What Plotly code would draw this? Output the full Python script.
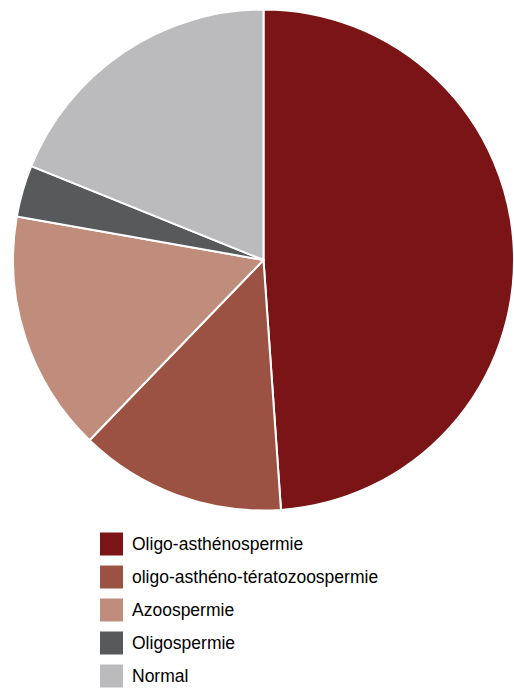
import plotly.graph_objects as go

categories = ["Oligo-asthénospermie", "oligo-asthéno-tératozoospermie",
              "Azoospermie", "Oligospermie", "Normal"]
values = [44, 12, 14, 3, 17]
colors = ["#7B1416", "#9B5242", "#C08C7C", "#58595B", "#BBBBBD"]

W, H = 514, 688

fig = go.Figure(go.Pie(
    labels=categories, values=values, sort=False,
    direction="clockwise", rotation=0,
    marker=dict(colors=colors, line=dict(color="white", width=2)),
    textinfo="none", showlegend=False,
    domain=dict(x=[13 / W, 1], y=[1 - 511 / H, 1 - 9 / H]),
))

shapes = []
annotations = []
for i, (lab, col) in enumerate(zip(categories, colors)):
    yc = 544 + 33 * i
    shapes.append(dict(type="rect", xref="paper", yref="paper",
                       x0=100 / W, x1=123 / W,
                       y0=1 - (yc - 11.5) / H, y1=1 - (yc + 11.5) / H,
                       fillcolor=col, line=dict(width=0)))
    annotations.append(dict(text=lab, xref="paper", yref="paper",
                            x=130 / W, y=1 - yc / H, xanchor="left", yanchor="middle",
                            showarrow=False,
                            font=dict(family="Liberation Sans, Arial", size=17.5, color="#000000")))

fig.update_layout(
    width=W, height=H, margin=dict(l=0, r=0, t=0, b=0),
    paper_bgcolor="white", plot_bgcolor="white",
    shapes=shapes, annotations=annotations,
)
fig.write_html("out.html")
